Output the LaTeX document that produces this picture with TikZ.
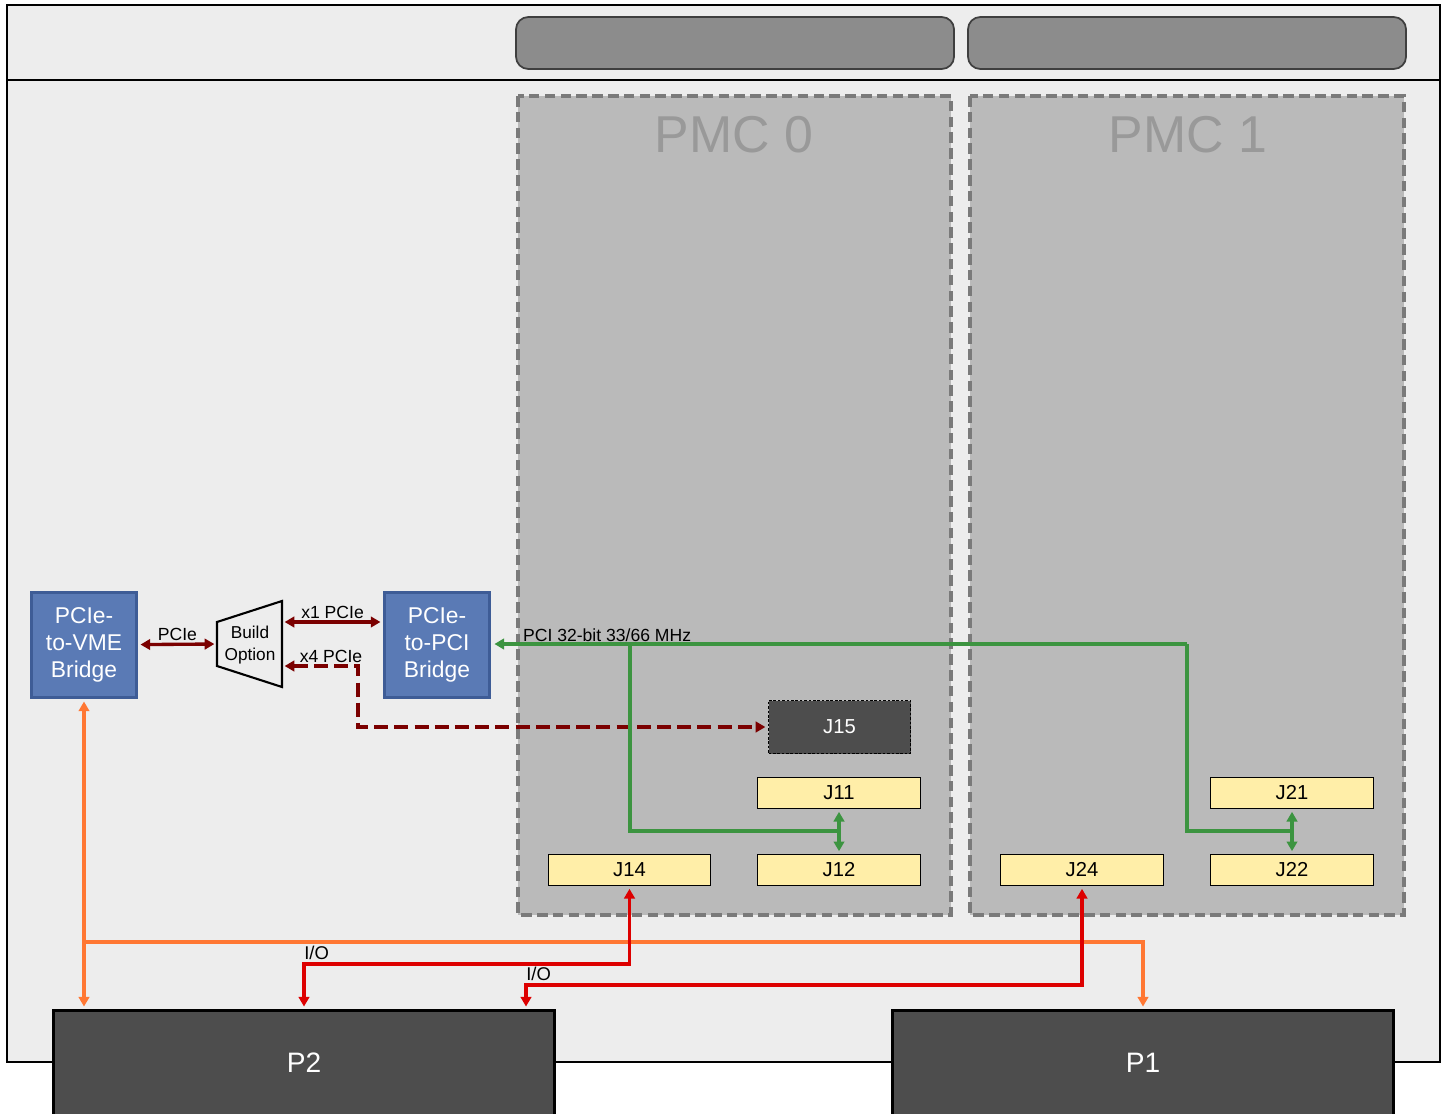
\documentclass[tikz,border=0pt]{standalone}
\usepackage{fontspec}
\setmainfont{Liberation Sans}
\usepackage{tikz}
\usetikzlibrary{arrows.meta}
\definecolor{boardgray}{HTML}{EDEDED}
\definecolor{bezelgray}{HTML}{8C8C8C}
\definecolor{bezeledge}{HTML}{3F3F3F}
\definecolor{pmcfill}{HTML}{BABABA}
\definecolor{pmcedge}{HTML}{7A7A7A}
\definecolor{pmctext}{HTML}{999999}
\definecolor{bridgeblue}{HTML}{5A7AB5}
\definecolor{bridgeedge}{HTML}{3E5C96}
\definecolor{jyellow}{HTML}{FFEEA8}
\definecolor{darkbox}{HTML}{4D4D4D}
\definecolor{pciered}{HTML}{7B0000}
\definecolor{pcigreen}{HTML}{3C9440}
\definecolor{vmeorange}{HTML}{FF7733}
\definecolor{iored}{HTML}{DD0000}

\begin{document}
\begin{tikzpicture}[x=0.02cm, y=-0.02cm,
  tip/.style={-{Triangle[length=5.5pt,width=6pt]}},
  twotip/.style={{Triangle[length=5.5pt,width=6pt]}-{Triangle[length=5.5pt,width=6pt]}},
  bridge/.style={draw=bridgeedge, line width=1.6pt, fill=bridgeblue, text=white, align=center,
    minimum width=2.1cm, minimum height=2.1cm, inner sep=0pt, font=\fontsize{13}{15.4}\selectfont},
  jconn/.style={draw=black, line width=0.8pt, fill=jyellow, minimum width=3.25cm, minimum height=0.62cm,
    inner sep=0pt, font=\fontsize{11.5}{13}\selectfont},
  pconn/.style={draw=black, line width=1.5pt, fill=darkbox, text=white, minimum width=10.02cm,
    minimum height=2.1cm, inner sep=0pt, font=\fontsize{16}{18}\selectfont},
  pmcarea/.style={draw=pmcedge, fill=pmcfill, line width=2.7pt, dash pattern=on 6pt off 3pt},
  lbl/.style={inner sep=1pt, font=\fontsize{10}{12}\selectfont},
  iolbl/.style={anchor=south west, inner sep=0pt, yshift=2pt, font=\fontsize{10.5}{12}\selectfont},
  pcie/.style={draw=pciered, line width=1.9pt, shorten <=1.5pt, shorten >=1.5pt, twotip},
  pcibus/.style={draw=pcigreen, line width=2.2pt},
  vmebus/.style={draw=vmeorange, line width=1.8pt},
  iobus/.style={draw=iored, line width=2.2pt}]
\clip (0,0) rectangle (1442,1114);
\draw[line width=1.1pt, fill=boardgray] (7,5) rectangle (1440,1062);
\draw[line width=1.1pt] (7,80) -- (1440,80);
\draw[draw=bezeledge, fill=bezelgray, line width=1pt, rounded corners=7pt] (516,17) rectangle (954,69);
\draw[draw=bezeledge, fill=bezelgray, line width=1pt, rounded corners=7pt] (968,17) rectangle (1406,69);
\draw[pmcarea] (518,96) rectangle (951,915);
\draw[pmcarea] (970,96) rectangle (1404,915);
\node[text=pmctext, font=\fontsize{29.5}{32}\selectfont] (pmc0) at (734,135) {PMC 0};
\node[text=pmctext, font=\fontsize{29.5}{32}\selectfont] (pmc1) at (1188,135) {PMC 1};

\node[bridge] (vme) at (84,645) {PCIe-\\to-VME\\Bridge};
\node[bridge] (pci) at (437,645) {PCIe-\\to-PCI\\Bridge};
\draw[line width=1.2pt] (217,622) -- (282,601) -- (282,687) -- (217,666) -- cycle;
\node[align=center, inner sep=0pt, font=\fontsize{9.8}{12.5}\selectfont] (build) at (250,645) {Build\\Option};
\coordinate (bo-w) at (217,644);
\coordinate (bo-e1) at (282,622);
\coordinate (bo-e2) at (282,666);

\node[jconn, draw=black, fill=darkbox, text=white, dash pattern=on 1.5pt off 1pt, line width=0.6pt,
  minimum width=2.84cm, minimum height=1.06cm] (j15) at (839.5,727) {J15};
\node[jconn] (j11) at (839,793) {J11};
\node[jconn] (j12) at (839,870) {J12};
\node[jconn] (j14) at (629.5,870) {J14};
\node[jconn] (j24) at (1082,870) {J24};
\node[jconn] (j21) at (1292,793) {J21};
\node[jconn] (j22) at (1292,870) {J22};
\node[pconn] (p2) at (304,1063) {P2};
\node[pconn] (p1) at (1143,1063) {P1};

\draw[pcie] (vme) -- (bo-w) node[lbl, midway, above] (pcielbl) {PCIe};
\draw[pcie] (bo-e1) -- (pci.west |- bo-e1) node[lbl, midway, above] (x1lbl) {x1 PCIe};
\coordinate (x4c) at (358,727);
\draw[pcie, dash pattern=on 8pt off 3.5pt, line width=2.2pt] (bo-e2) -| (x4c) -- (j15);
\node[lbl, above] (x4lbl) at (331,665) {x4 PCIe};

\coordinate (bus1) at (1187,644);
\coordinate (tap0) at (630,644);
\coordinate (link0) at (839,831);
\coordinate (link1) at (1292,831);
\draw[pcibus, tip, shorten >=2pt] (bus1) -- (pci.east |- bus1);
\node[lbl, above right] (pcilbl) at (521,644) {PCI 32-bit 33/66 MHz};
\draw[pcibus] (tap0) |- (link0);
\draw[pcibus] (bus1) |- (link1);
\draw[pcibus, twotip, shorten <=1.5pt, shorten >=1.5pt] (j11) -- (j12);
\draw[pcibus, twotip, shorten <=1.5pt, shorten >=1.5pt] (j21) -- (j22);

\coordinate (vmerow) at (84,942);
\draw[vmebus, twotip, shorten <=1.5pt, shorten >=1.5pt] (vme) -- (vme |- p2.north);
\draw[vmebus, tip, shorten >=1.5pt] (vmerow) -| (p1);

\coordinate (iorow0) at (0,964);
\coordinate (io1drop) at (526,985);
\draw[iobus, twotip, shorten <=1.5pt, shorten >=1.5pt] (j14) |- (p2.north |- iorow0) -- (p2.north);
\node[iolbl] (io0lbl) at (p2.north |- iorow0) {I/O};
\draw[iobus, twotip, shorten <=1.5pt, shorten >=1.5pt] (j24) |- (io1drop) -- (io1drop |- p2.north);
\node[iolbl] (io1lbl) at (io1drop) {I/O};
\end{tikzpicture}
\end{document}
